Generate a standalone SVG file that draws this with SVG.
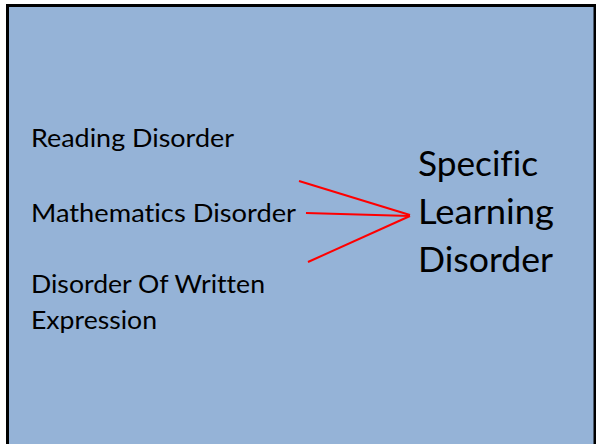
<svg xmlns="http://www.w3.org/2000/svg" width="596" height="444" viewBox="0 0 596 444">
<style>
.t{font-family:Lato,"Liberation Sans",Arial,sans-serif;fill:#000;font-variant-ligatures:none}
.s{font-size:25px}
.b{font-size:34px}
.c{stroke:#ff0000;stroke-width:2;fill:none}
</style>
<rect x="0" y="0" width="596" height="444" fill="#ffffff"/>
<rect x="7.5" y="5.5" width="587.5" height="445" fill="#95b3d7" stroke="#000" stroke-width="3"/>
<g id="reading"><text class="t s" x="31" y="147" textLength="203" lengthAdjust="spacingAndGlyphs">Reading Disorder</text></g>
<g id="math"><text class="t s" x="31" y="222" textLength="265" lengthAdjust="spacingAndGlyphs">Mathematics Disorder</text></g>
<g id="written"><text class="t s" x="31" y="293" textLength="234" lengthAdjust="spacingAndGlyphs">Disorder Of Written</text><text class="t s" x="31" y="329" textLength="126" lengthAdjust="spacingAndGlyphs">Expression</text></g>
<g id="sld"><text class="t b" x="418" y="176" textLength="120" lengthAdjust="spacingAndGlyphs">Specific</text><text class="t b" x="418" y="224" textLength="136" lengthAdjust="spacingAndGlyphs">Learning</text><text class="t b" x="418" y="272" textLength="135" lengthAdjust="spacingAndGlyphs">Disorder</text></g>
<g id="connectors">
<line class="c" x1="299" y1="181" x2="410" y2="215"/>
<line class="c" x1="306" y1="213" x2="410" y2="216"/>
<line class="c" x1="308" y1="262" x2="410" y2="216"/>
</g>
</svg>
